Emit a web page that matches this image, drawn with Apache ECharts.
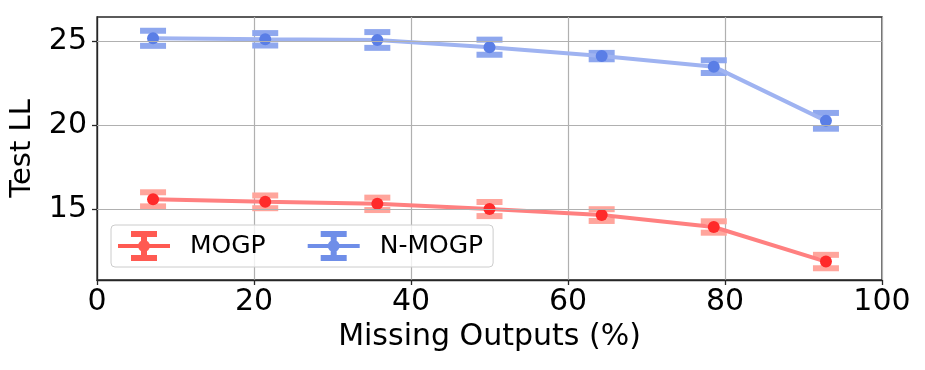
<!DOCTYPE html>
<html>
<head>
<meta charset="utf-8">
<script src="https://cdn.jsdelivr.net/npm/echarts@6/dist/echarts.min.js"></script>
<style>
  html, body { margin: 0; padding: 0; background: #fff; }
  #chart { width: 925px; height: 370px; }
</style>
</head>
<body>
<div id="chart"></div>
<script>
// x positions (% missing outputs)
var missing = [7.14, 21.43, 35.71, 50, 64.29, 78.57, 92.86]
// test log-likelihood, mean and error
var mogp = [15.58, 15.43, 15.31, 15.0, 14.64, 13.93, 11.87]
var mogpErr = [0.42, 0.38, 0.37, 0.42, 0.35, 0.34, 0.4]
var nmogp = [25.18, 25.12, 25.08, 24.65, 24.12, 23.49, 20.26]
var nmogpErr = [0.45, 0.37, 0.47, 0.45, 0.19, 0.38, 0.47]
// tick labels
var xTicks = [0, 20, 40, 60, 80, 100]
var yTicks = [15, 20, 25]

var FONT = 'DejaVu Sans'
var AXIS = '#262626'

// legend icon: line + caps + bar + dot (all clockwise so nothing cuts a hole)
var ebIcon = 'path://M0,13L52,13L52,17L0,17Z M13,0L39,0L39,6L13,6Z M13,24L39,24L39,30L13,30Z M23,0L29,0L29,30L23,30Z M20,15A6,6,0,1,1,32,15A6,6,0,1,1,20,15Z'

function pairs (ys) {
  return missing.map(function (x, i) { return [x, ys[i]] })
}

function errData (ys, es) {
  return missing.map(function (x, i) { return [x, ys[i] - es[i], ys[i] + es[i]] })
}

function errSeries (name, ys, es, color) {
  return {
    name: name,
    type: 'custom',
    z: 2,
    silent: true,
    data: errData(ys, es),
    renderItem: function (params, api) {
      var lo = api.coord([api.value(0), api.value(1)])
      var hi = api.coord([api.value(0), api.value(2)])
      var hw = 13
      return {
        type: 'group',
        children: [
          { type: 'rect', shape: { x: lo[0] - 2.5, y: hi[1], width: 5, height: lo[1] - hi[1] }, style: { fill: color } },
          { type: 'rect', shape: { x: hi[0] - hw, y: hi[1] - 3, width: hw * 2, height: 6 }, style: { fill: color } },
          { type: 'rect', shape: { x: lo[0] - hw, y: lo[1] - 3, width: hw * 2, height: 6 }, style: { fill: color } }
        ]
      }
    }
  }
}

function lineSeries (name, ys, lineColor, dotColor) {
  return {
    name: name,
    type: 'line',
    z: 3,
    data: pairs(ys),
    symbol: 'circle',
    symbolSize: 12,
    lineStyle: { color: lineColor, width: 4 },
    itemStyle: { color: dotColor },
    emphasis: { disabled: true }
  }
}

var chart = echarts.init(document.getElementById('chart'))
chart.setOption({
  animation: false,
  grid: {
    left: 97, right: 43, top: 17, bottom: 90,
    show: true, borderColor: AXIS, borderWidth: 1.3
  },
  legend: {
    left: 111, top: 225,
    orient: 'horizontal',
    itemWidth: 52, itemHeight: 30,
    itemGap: 42,
    padding: [6, 10, 6, 7],
    borderColor: '#cccccc', borderWidth: 1, borderRadius: 4,
    backgroundColor: 'rgba(255,255,255,0.8)',
    textStyle: { fontFamily: FONT, fontSize: 25, color: '#000', padding: [0, 0, 0, 15] },
    data: [
      { name: 'MOGP', icon: ebIcon, itemStyle: { color: '#ff5a52' } },
      { name: 'N-MOGP', icon: ebIcon, itemStyle: { color: '#6f8ee8' } }
    ]
  },
  xAxis: {
    type: 'value',
    min: 0, max: 100, interval: 20,
    name: 'Missing Outputs (%)',
    nameLocation: 'middle',
    nameGap: 42,
    nameTextStyle: { fontFamily: FONT, fontSize: 30, color: '#000' },
    axisLine: { show: true, lineStyle: { color: AXIS, width: 1.3 } },
    axisTick: { show: true, length: 5, lineStyle: { color: AXIS, width: 1.3 } },
    axisLabel: {
      fontFamily: FONT, fontSize: 30, color: '#000', margin: 7,
      customValues: xTicks
    },
    splitLine: { show: true, lineStyle: { color: '#b0b0b0', width: 1.2 } }
  },
  yAxis: {
    type: 'value',
    min: 10.77, max: 26.45,
    name: 'Test LL',
    nameLocation: 'middle',
    nameGap: 60,
    nameTextStyle: { fontFamily: FONT, fontSize: 29, color: '#000' },
    axisLine: { show: true, lineStyle: { color: AXIS, width: 1.3 } },
    axisTick: { show: true, length: 5, customValues: yTicks, lineStyle: { color: AXIS, width: 1.3 } },
    axisLabel: {
      fontFamily: FONT, fontSize: 30, color: '#000', margin: 10,
      customValues: yTicks
    },
    splitLine: { show: false }
  },
  series: [
    {
      // horizontal grid lines at the y ticks
      type: 'line',
      z: 1,
      data: [],
      silent: true,
      markLine: {
        silent: true,
        symbol: 'none',
        label: { show: false },
        lineStyle: { color: '#b0b0b0', width: 1.2, type: 'solid' },
        data: yTicks.map(function (v) { return { yAxis: v } })
      }
    },
    errSeries('MOGP', mogp, mogpErr, '#ffa59c'),
    errSeries('N-MOGP', nmogp, nmogpErr, '#8ea7ee'),
    lineSeries('MOGP', mogp, '#ff8080', '#ff2a2a'),
    lineSeries('N-MOGP', nmogp, '#9fb3f1', '#5a7ee6')
  ]
})
</script>
</body>
</html>
